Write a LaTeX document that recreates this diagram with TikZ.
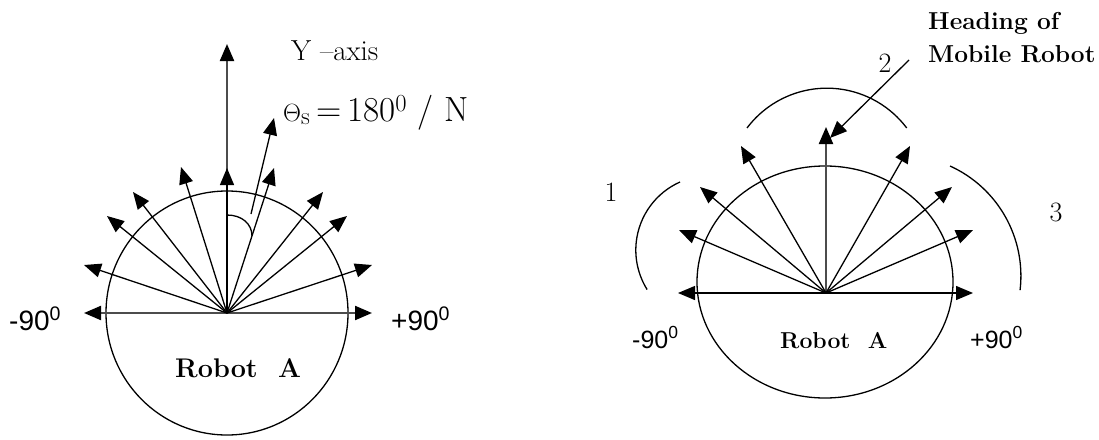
\documentclass[tikz,border=0pt]{standalone}
\usepackage{fontspec}
\newfontfamily\arialf{Liberation Sans}
\usetikzlibrary{arrows.meta}
\begin{document}
\begin{tikzpicture}[x=1pt,y=-1pt,
  ray/.style={line width=1.3pt, -{Triangle[length=17pt,width=14pt,color=black]}},
  thickray/.style={ray, line width=2.2pt, draw=black!70},
  guide/.style={line width=1.3pt},
  lbl/.style={inner sep=0pt, anchor=base west}]
\useasboundingbox (0,0) rectangle (1099,439);
% ---------- left diagram ----------
\coordinate (L) at (227,313);
\draw[guide] (L) ellipse [x radius=121, y radius=122];
\coordinate (Ly) at (227,44);
\coordinate (La) at (84,313);
\coordinate (Lb) at (84,265);
\coordinate (Lc) at (107,216);
\coordinate (Ld) at (133,192);
\coordinate (Le) at (181,167);
\coordinate (Lf) at (227,168);
\coordinate (Lg) at (274,168);
\coordinate (Lh) at (323,192);
\coordinate (Li) at (347,216);
\coordinate (Lj) at (372,265);
\coordinate (Lk) at (372,313);
\draw[thickray] (L) -- (Ly);
\draw[thickray] (L) -- (La);
\draw[thickray] (L) -- (Lk);
\foreach \t in {Lb,Lc,Ld,Le,Lf,Lg,Lh,Li,Lj} \draw[ray] (L) -- (\t);
\coordinate (Ls) at (251,214);
\coordinate (Lt) at (274,118);
\draw[ray] (Ls) -- (Lt);
\coordinate (Am0) at (227,215);
\coordinate (Am1) at (252,236);
\draw[guide] (Am0) .. controls (242,215) and (252,224) .. (Am1);
\node[lbl] (yaxis) at (291,60) {\fontsize{29}{34}\selectfont Y --axis};
\node[lbl] (theta) at (283,121) {\fontsize{35}{41}\selectfont $\Theta_{\mathrm{s}}$\,=\,180\textsuperscript{0} / N};
\node[lbl] (lm90) at (9,330) {\arialf\fontsize{28}{34}\selectfont -90\textsuperscript{0}};
\node[lbl] (lp90) at (391,330) {\arialf\fontsize{28}{34}\selectfont +90\textsuperscript{0}};
\node[lbl] (lrobot) at (175,377) {\fontsize{27}{32}\selectfont\bfseries Robot~ A};
% ---------- right diagram ----------
\coordinate (R) at (826,293);
\draw[guide] (825,282) ellipse [x radius=128, y radius=116];
\coordinate (Ra) at (678,293);
\coordinate (Rb) at (679,230);
\coordinate (Rc) at (700,187);
\coordinate (Rd) at (741,146);
\coordinate (Re) at (826,127);
\coordinate (Rf) at (910,146);
\coordinate (Rg) at (952,187);
\coordinate (Rh) at (973,230);
\coordinate (Ri) at (973,293);
\draw[thickray] (R) -- (Re);
\foreach \t in {Ra,Rb,Rc,Rd,Rf,Rg,Rh,Ri} \draw[ray] (R) -- (\t);
\coordinate (Hs) at (909,60);
\coordinate (Ht) at (830,138);
\draw[ray] (Hs) -- (Ht);
\draw[guide] (747,128) arc[start angle=-143, end angle=-37, radius=100];
\draw[guide] (680,182) arc[start angle=-114, end angle=-212, radius=74.5];
\draw[guide] (950,166) arc[start angle=-65.6, end angle=6.7, radius=120.8];
\node[lbl] (head1) at (928,29) {\fontsize{24.5}{29}\selectfont\bfseries Heading of};
\node[lbl] (head2) at (928,62) {\fontsize{24.5}{29}\selectfont\bfseries Mobile Robot};
\node[inner sep=0pt, anchor=base] (n2) at (885,72) {\fontsize{28}{33}\selectfont 2};
\node[inner sep=0pt, anchor=base] (n1) at (611,201) {\fontsize{28}{33}\selectfont 1};
\node[inner sep=0pt, anchor=base] (n3) at (1056,221) {\fontsize{28}{33}\selectfont 3};
\node[lbl] (rm90) at (632,348) {\arialf\fontsize{25}{30}\selectfont -90\textsuperscript{0}};
\node[lbl] (rp90) at (970,348) {\arialf\fontsize{25}{30}\selectfont +90\textsuperscript{0}};
\node[lbl] (rrobot) at (780,348) {\fontsize{23}{28}\selectfont\bfseries Robot~ A};
\end{tikzpicture}
\end{document}
